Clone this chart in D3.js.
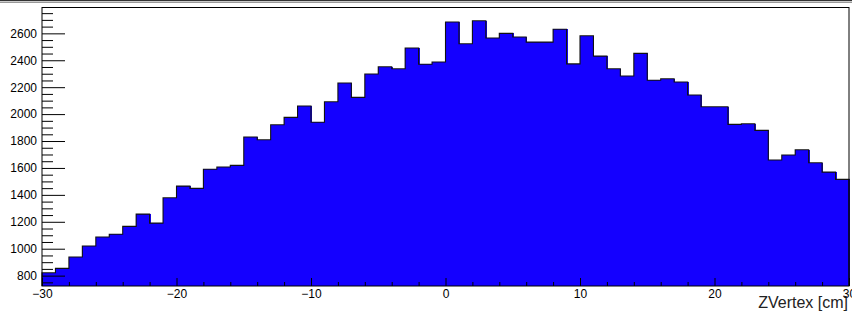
<!DOCTYPE html>
<html>
<head>
<meta charset="utf-8">
<script src="https://cdn.jsdelivr.net/npm/d3@7"></script>
<style>
  body { margin: 0; background: #fff; }
  svg { display: block; font-family: "Liberation Sans", Arial, sans-serif; }
  .axis path, .axis line { stroke: #000; }
</style>
</head>
<body>
<script>
// bin low edges in cm (1 cm bins from -30 to 30)
const binEdges = d3.range(-30, 31, 1);
// counts per bin
const counts = [
  821, 854, 938, 1020, 1087, 1107, 1166, 1257, 1190, 1379,
  1465, 1448, 1590, 1607, 1619, 1830, 1810, 1921, 1976, 2060,
  1939, 2092, 2231, 2124, 2298, 2352, 2337, 2491, 2370, 2387,
  2684, 2523, 2694, 2565, 2600, 2573, 2535, 2535, 2630, 2373,
  2582, 2431, 2337, 2283, 2451, 2251, 2263, 2238, 2142, 2055,
  2055, 1924, 1928, 1879, 1659, 1696, 1735, 1639, 1569, 1515
];
const xMajor = [-30, -20, -10, 0, 10, 20, 30];
const xMinor = d3.range(-30, 31, 2);
const yMajor = [800, 1000, 1200, 1400, 1600, 1800, 2000, 2200, 2400, 2600];
const yMinor = d3.range(750, 2800, 50);
const xTitle = "ZVertex [cm]";

const W = 852, H = 315;
const frame = { left: 42, right: 849, top: 7.5, bottom: 286 };

const svg = d3.select('body').append('svg')
    .attr('width', W)
    .attr('height', H);

// canvas border lines at the very top
svg.append('line').attr('x1', 0).attr('x2', W).attr('y1', 0.5).attr('y2', 0.5)
    .attr('stroke', '#333').attr('stroke-width', 1.5);
svg.append('line').attr('x1', 0).attr('x2', W).attr('y1', 2.5).attr('y2', 2.5)
    .attr('stroke', '#999').attr('stroke-width', 1);

const x = d3.scaleLinear().domain([-30, 30]).range([frame.left, frame.right]);
const y = d3.scaleLinear().domain([723, 2792]).range([frame.bottom, frame.top]);

const bins = counts.map((c, i) => ({ x0: binEdges[i], x1: binEdges[i + 1], c: c }));

// filled bars
svg.append('g').attr('shape-rendering', 'crispEdges')
    .selectAll('rect').data(bins).join('rect')
    .attr('x', (d) => x(d.x0))
    .attr('width', (d) => x(d.x1) - x(d.x0) + 1)
    .attr('y', (d) => y(d.c))
    .attr('height', (d) => y.range()[0] - y(d.c))
    .attr('fill', '#1400ff');

// histogram outline
const pts = [[x(-30), y(723)]];
bins.forEach((d) => {
    pts.push([x(d.x0), y(d.c)]);
    pts.push([x(d.x1), y(d.c)]);
});
pts.push([x(30), y(723)]);
svg.append('path')
    .attr('d', d3.line()(pts))
    .attr('fill', 'none')
    .attr('stroke', '#111')
    .attr('stroke-width', 1.1);

// frame
svg.append('rect')
    .attr('x', frame.left).attr('y', frame.top)
    .attr('width', frame.right - frame.left)
    .attr('height', frame.bottom - frame.top)
    .attr('fill', 'none').attr('stroke', '#000').attr('stroke-width', 1);

// y axis: major + minor ticks pointing inwards
const gy = svg.append('g').attr('class', 'axis')
    .attr('transform', `translate(${frame.left},0)`);
gy.call(d3.axisLeft(y).tickValues(yMajor).tickSize(-23).tickPadding(5).tickFormat(d3.format('d')));
gy.selectAll('text').attr('font-size', 12).attr('fill', '#000')
    .attr('font-family', '"Liberation Sans", Arial, sans-serif');
const gy2 = svg.append('g').attr('class', 'axis')
    .attr('transform', `translate(${frame.left},0)`);
gy2.call(d3.axisLeft(y).tickValues(yMinor.filter((v) => yMajor.indexOf(v) < 0)).tickSize(-11).tickFormat(''));
gy.select('.domain').remove();
gy2.select('.domain').remove();

// x axis
const gx = svg.append('g').attr('class', 'axis')
    .attr('transform', `translate(0,${frame.bottom})`);
gx.call(d3.axisBottom(x).tickValues(xMajor).tickSize(-8).tickPadding(3));
gx.selectAll('text').attr('font-size', 12).attr('fill', '#000')
    .attr('font-family', '"Liberation Sans", Arial, sans-serif');
const gx2 = svg.append('g').attr('class', 'axis')
    .attr('transform', `translate(0,${frame.bottom})`);
gx2.call(d3.axisBottom(x).tickValues(xMinor.filter((v) => xMajor.indexOf(v) < 0)).tickSize(-4).tickFormat(''));
gx.select('.domain').remove();
gx2.select('.domain').remove();

// axis title
svg.append('text')
    .attr('x', 848).attr('y', 308)
    .attr('text-anchor', 'end')
    .attr('font-size', 16)
    .attr('fill', '#222')
    .text(xTitle);
</script>
</body>
</html>
